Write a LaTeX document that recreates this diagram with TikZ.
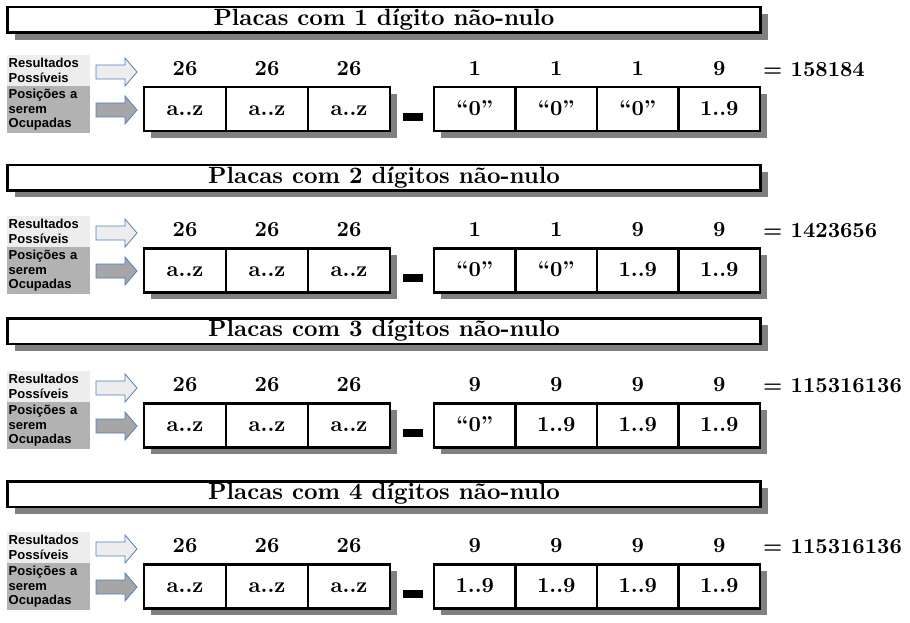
\documentclass[tikz,border=0pt]{standalone}
\usepackage{fontspec}
\newfontfamily\rotulofont{Liberation Sans}
\newfontfamily\negrito{lmroman10-bold.otf}[Ligatures=TeX]
\usetikzlibrary{shadows}
\definecolor{sombra}{HTML}{808080}
\definecolor{claro}{HTML}{EDEDED}
\definecolor{escuro}{HTML}{B2B2B2}
\definecolor{contorno}{HTML}{4F7EC0}
\definecolor{setacinza}{HTML}{A6A6A6}

\begin{document}
\begin{tikzpicture}[x=1pt, y=-1pt,
    sombreado/.style={drop shadow={shadow xshift=7pt, shadow yshift=-7pt, fill=sombra, opacity=1}},
    titulo/.style={draw, line width=2.5pt, fill=white, sombreado, minimum width=753pt,
        minimum height=25.5pt, inner sep=0pt, font=\negrito\fontsize{23.5}{26}\selectfont},
    casa/.style={draw, line width=2.5pt, fill=white, sombreado, minimum height=44pt, inner sep=0pt,
        text height=12pt, text depth=0pt, font=\negrito\fontsize{21.5}{24}\selectfont},
    numero/.style={font=\negrito\fontsize{21.5}{24}\selectfont},
    rotulo/.style={anchor=north west, text width=80pt, inner sep=1.5pt, align=left,
        font=\rotulofont\bfseries\fontsize{13}{14.8}\selectfont},
    seta/.style={draw=contorno, line width=0.8pt}]
    \useasboundingbox (0,0) rectangle (910,623);

    \foreach \s/\yt/\yb/\nome/\total/\dig in {
        1/20/86/{1 dígito}/158184/{1/``0'',1/``0'',1/``0'',9/1..9},
        2/177.5/247/{2 dígitos}/1423656/{1/``0'',1/``0'',9/1..9,9/1..9},
        3/331/402/{3 dígitos}/115316136/{9/``0'',9/1..9,9/1..9,9/1..9},
        4/494/563/{4 dígitos}/115316136/{9/1..9,9/1..9,9/1..9,9/1..9}}
    {
        % Titulo
        \node[titulo] (t\s) at (384,\yt) {Placas com \nome\ não-nulo};

        % Rotulos a esquerda
        \node[rotulo, fill=claro, minimum height=31pt] (rp\s) at (7,\yb-31) {Resultados\\Possíveis};
        \node[rotulo, fill=escuro, minimum height=47pt] (po\s) at (7,\yb) {Posições a\\serem\\Ocupadas};

        % Setas
        \draw[seta, fill=claro] (96,\yb-21) -- ++(29,0) -- ++(0,-7) -- ++(12,14) -- ++(-12,14) -- ++(0,-7) -- ++(-29,0) -- cycle;
        \draw[seta, fill=setacinza] (96,\yb+17) -- ++(29,0) -- ++(0,-7) -- ++(12,14) -- ++(-12,14) -- ++(0,-7) -- ++(-29,0) -- cycle;

        % Letras
        \foreach \i in {1,2,3} {
            \node[casa, minimum width=82pt] (l\s-\i) at ({185+82*(\i-1)},\yb+23.25) {a..z};
            \node[numero] (k\s-\i) at ([yshift=17.75pt]l\s-\i.north) {26};
        }

        % Traco
        \fill (403,\yb+27) rectangle (423,\yb+35);

        % Digitos
        \foreach \n/\c [count=\i] in \dig {
            \node[casa, minimum width=81.5pt] (d\s-\i) at ({474.75+81.5*(\i-1)},\yb+23.25) {\c};
            \node[numero] (m\s-\i) at ([yshift=17.75pt]d\s-\i.north) {\n};
        }

        % Total
        \node[numero, anchor=west, inner sep=0pt] (tot\s) at (763,\yb-16.5) {= \total};
    }
\end{tikzpicture}
\end{document}
